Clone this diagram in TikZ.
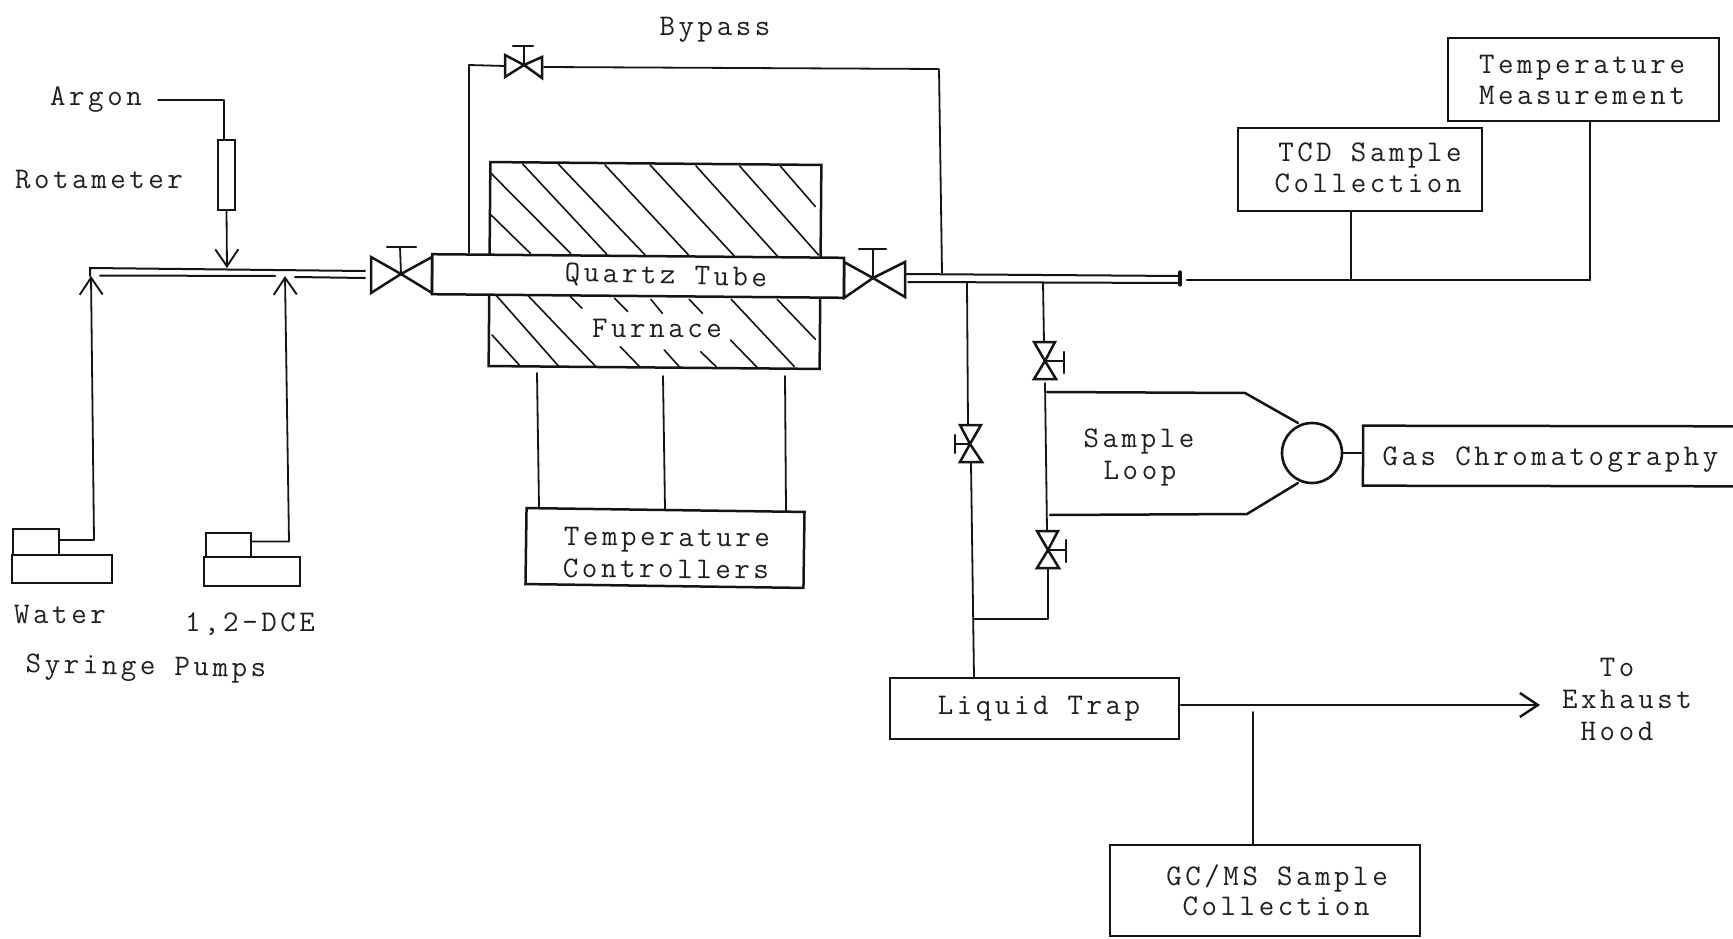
\documentclass[tikz,border=0pt]{standalone}
\usepackage{fontspec}
\newfontfamily\labfont[LetterSpace=12]{Latin Modern Mono}
\usetikzlibrary{arrows.meta}
\tikzset{
  pipe/.style={draw=black!92,line width=1.8pt,line cap=round,line join=round},
  heavy/.style={draw=black!92,line width=2.5pt,line cap=round,line join=miter},
  hatchline/.style={draw=black!92,line width=1.6pt,line cap=round},
  boxn/.style={draw=black!92,line width=2.5pt,fill=white,inner sep=0pt,outer sep=0pt,rectangle},
  lab/.style={inner sep=0pt,outer sep=0pt,anchor=center,text height=18pt,text depth=0pt,font=\labfont\fontsize{30}{30}\selectfont,text=black!88},
  barb/.style={-{Straight Barb[length=17pt,width=23pt,line width=1.9pt]}}
}
\begin{document}
\begin{tikzpicture}[x=1pt,y=-1pt]
\useasboundingbox (0,0) rectangle (1733,939);
\fill[white] (0,0) rectangle (1733,939);
\clip (0,0) rectangle (1733,939);

% ---------- furnace and hatching
\node[boxn,minimum width=331,minimum height=204,rotate=-0.5] (furnace) at (655,265.5) {};
\begin{scope}[shift={(360,20)},x=0.3827pt,y=-0.3333pt]
\foreach \a/\b/\c/\d in {
 338/455/550/700,338/580/445/700,425/432/645/703,518/432/745/705,640/435/860/707,
 758/435/978/708,878/438/1092/710,992/438/1198/705,1098/438/1190/560,
 355/825/520/1040,440/828/618/1042,345/945/420/1040,550/830/580/865,665/835/700/875,
 760/838/790/880,860/838/895/880,970/838/1135/1040,1090/838/1190/958,
 680/980/733/1043,795/990/838/1045,890/995/935/1045,968/960/1040/1045}
  \draw[hatchline] (\a,\b) -- (\c,\d);
\end{scope}
\node[boxn,minimum width=412,minimum height=40,rotate=-0.5] (tube) at (638,276) {};
\node[lab,rotate=-1.5] (quartz) at (666,275) {Quartz Tube};
\node[lab] (furn) at (657,328) {Furnace};

% ---------- boxes
\node[boxn,minimum width=278,minimum height=76,rotate=-0.8] (tc) at (665,548) {};
\node[lab,rotate=-0.5] (tc1) at (667,537) {Temperature};
\node[lab,rotate=-0.5] (tc2) at (666,569) {Controllers};
\node[boxn,minimum width=271,minimum height=83] (tm) at (1583.5,79.5) {};
\node[lab] (tm1) at (1582,65) {Temperature};
\node[lab] (tm2) at (1582,96) {Measurement};
\node[boxn,minimum width=244,minimum height=83] (tcd) at (1360,169.5) {};
\node[lab] (tcd1) at (1370,152) {TCD Sample};
\node[lab] (tcd2) at (1368,184) {Collection};
\node[boxn,minimum width=377,minimum height=60,rotate=-0.1] (gc) at (1551.5,456) {};
\node[lab] (gct) at (1550.5,456) {Gas Chromatography};
\node[boxn,minimum width=289,minimum height=61] (trap) at (1034.5,708.5) {};
\node[lab] (trapt) at (1039,705) {Liquid Trap};
\node[boxn,minimum width=310,minimum height=91] (ms) at (1265,890.5) {};
\node[lab] (ms1) at (1277,876) {GC/MS Sample};
\node[lab] (ms2) at (1276,906) {Collection};
\node[boxn,line width=2pt,minimum width=17,minimum height=70] (rota) at (226.5,175) {};

% ---------- pumps
\node[boxn,minimum width=46,minimum height=26] (wtop) at (36,542) {};
\node[boxn,minimum width=100,minimum height=28] (wbase) at (62,569) {};
\node[boxn,minimum width=45,minimum height=24] (dtop) at (228.5,545) {};
\node[boxn,minimum width=96,minimum height=29] (dbase) at (252,571.5) {};

% ---------- plain labels
\node[lab] (argon) at (96,97) {Argon};
\node[lab] (rotal) at (99,180) {Rotameter};
\node[lab] (water) at (60,614) {Water};
\node[lab] (dce) at (250,622) {1,2-DCE};
\node[lab,rotate=-1] (syr) at (146,666) {Syringe Pumps};
\node[lab] (bypass) at (715,27) {Bypass};
\node[lab] (s1) at (1139,438) {Sample};
\node[lab] (s2) at (1140,470) {Loop};
\node[lab] (to) at (1617,667) {To};
\node[lab] (exh) at (1627,699) {Exhaust};
\node[lab] (hood) at (1617,731) {Hood};

% ---------- junction points
\coordinate (lcorner) at (90,268);
\coordinate (lend) at (365,271);
\coordinate (l2s) at (100,275.5);
\coordinate (l2a) at (275,276);
\coordinate (l2b) at (295,277);
\coordinate (l2e) at (365,278);
\coordinate (rtop) at (905,274);
\coordinate (rtopE) at (1180,276);
\coordinate (rbot) at (908,282);
\coordinate (rbotE) at (1180,283);
\coordinate (sens) at (1187,280);
\coordinate (senE) at (1590,280);
\coordinate (j1) at (1351,280);
\coordinate (vA) at (970,444);
\coordinate (vB) at (1045,361);
\coordinate (vC) at (1048,550);
\coordinate (vL) at (401,274);
\coordinate (vR) at (873,278);
\coordinate (vT) at (524,65);
\coordinate (circ) at (1312,453);
\coordinate (j2) at (973,619);
\coordinate (j3) at (1253,712);
\coordinate (tip) at (1540,705);

% ---------- argon + pumps lines
\draw[pipe] (158,100) -- (224,100) -- (rota.north -| 224,0);
\draw[pipe,barb] (rota.south) -- (227,268);
\draw[pipe,barb] (wtop.east |- 0,540) -- (94,540) -- (91,276);
\draw[pipe,barb] (dtop.east |- 0,541.5) -- (289,541.5) -- (285,276);
\draw[heavy,line width=2pt] (lcorner) ++(0,8) -- (lcorner) -- (lend);
\draw[heavy,line width=2pt] (l2s) -- (l2a);
\draw[heavy,line width=2pt] (l2b) -- (l2e);

% ---------- valves on the tube
\draw[heavy] (vL) -- (371,257) -- (371,293) -- cycle;
\draw[heavy] (vL) -- (tube.west |- 0,257) -- (tube.west |- 0,293) -- cycle;
\draw[pipe] (vL) -- (400,247);
\draw[heavy] (387,247) -- (416,247);
\draw[heavy] (vR) -- (844,262) -- (844,298) -- cycle;
\draw[heavy] (vR) -- (905,262) -- (905,297) -- cycle;
\draw[pipe] (vR) -- (873,249);
\draw[heavy] (859,249) -- (886,249);

% ---------- bypass
\draw[pipe] (469,253) -- (469,65) -- (505,66);
\draw[pipe] (544,67) -- (939,69) -- (942,273);
\draw[heavy] (vT) -- (505,55) -- (505,77) -- cycle;
\draw[heavy] (vT) -- (542,57) -- (542,78) -- cycle;
\draw[pipe] (vT) -- (524,46);
\draw[heavy] (513,46) -- (533,46);

% ---------- outlet pipe
\draw[heavy,line width=2pt] (rtop) -- (rtopE);
\draw[heavy,line width=2pt] (rbot) -- (rbotE);
\draw[heavy,line width=3.2pt] (1180,272) -- (1180,285);
\draw[heavy] (sens) -- (senE);
\draw[pipe] (tcd.south -| j1) -- (j1);
\draw[pipe] (1590,122) -- (senE);

% ---------- temperature controllers
\draw[pipe] (537,373) -- (539,507);
\draw[pipe] (663,376) -- (665,509);
\draw[pipe] (785,376) -- (786,511);

% ---------- lines to the liquid trap
\draw[pipe] (967,283) -- (968,425);
\draw[heavy] (vA) -- (960,425) -- (981,425) -- cycle;
\draw[heavy] (vA) -- (960,462) -- (982,462) -- cycle;
\draw[pipe] (vA) -- (955,444);
\draw[heavy] (955,435) -- (955,453);
\draw[pipe] (971,463) -- (974,678);

\draw[pipe] (1043,283) -- (1044,342);
\draw[heavy] (vB) -- (1034,342) -- (1055,342) -- cycle;
\draw[heavy] (vB) -- (1034,379) -- (1056,379) -- cycle;
\draw[pipe] (vB) -- (1064,361);
\draw[heavy] (1064,352) -- (1064,373);
\draw[pipe] (1045,383) -- (1047,530);
\draw[heavy] (vC) -- (1037,531) -- (1058,531) -- cycle;
\draw[heavy] (vC) -- (1037,568) -- (1059,568) -- cycle;
\draw[pipe] (vC) -- (1066,550);
\draw[heavy] (1066,540) -- (1066,562);
\draw[pipe] (1048,568) -- (1048,619) -- (j2);

% ---------- sample loop
\node[draw=black!92,line width=2.6pt,circle,inner sep=0pt,minimum size=60pt,fill=white] (inj) at (circ) {};
\draw[heavy] (1047,392) -- (1245,393) -- (1298,423);
\draw[heavy] (1050,515) -- (1247,514) -- (1298,483);
\draw[heavy] (inj.east) -- (inj.east -| gc.west);

% ---------- exhaust and GC/MS
\draw[heavy,-{Straight Barb[length=18pt,width=24pt,line width=2.4pt]}] (1181,705) -- (tip);
\draw[pipe] (j3) -- (ms.north -| j3);
\end{tikzpicture}
\end{document}
